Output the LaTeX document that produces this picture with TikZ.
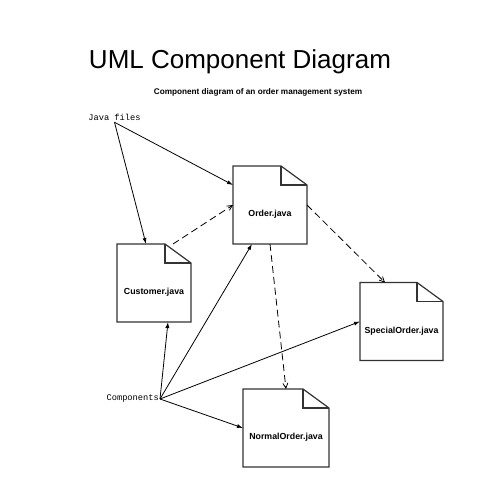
\documentclass[tikz,border=0pt]{standalone}
\usepackage{fontspec}
\setmainfont{Liberation Sans}
\newfontfamily\monofont{Liberation Mono}
\usetikzlibrary{arrows.meta}
\newcommand*{\foldw}{26pt}
\newcommand*{\foldh}{19pt}
\newcommand*{\compbox}[4][74pt]{%
  \node [compnode, minimum width=#1] (#2) at (#3) {#4};
  \draw [compline] (#2.north west) -- ([xshift=-\foldw]#2.north east)
    -- ([yshift=-\foldh]#2.north east) -- (#2.south east)
    -- (#2.south west) -- cycle;
  \draw [compline] ([xshift=-\foldw]#2.north east)
    |- ([yshift=-\foldh]#2.north east);
}

\begin{document}
\begin{tikzpicture}[x=1pt, y=1pt,
    compnode/.style = {minimum height=78pt, inner sep=0pt, outer sep=0pt,
                       text height=26pt, text depth=2pt,
                       font=\fontsize{8.8}{10}\selectfont\bfseries},
    compline/.style = {draw=black!80, line width=1.2pt, line join=miter},
    label/.style = {font=\monofont\fontsize{8.7}{10}\selectfont, inner sep=1pt},
    uses/.style = {-{Latex[length=6pt,width=4pt]}, line width=0.8pt},
    depends/.style = {-{Straight Barb[length=5pt,width=5pt]}, line width=0.8pt,
                      dash pattern=on 7pt off 4pt}]
  \useasboundingbox (0,0) rectangle (480,480);
  % titles
  \node [anchor=base, font=\fontsize{26}{30}\selectfont] (title) at (240,411)
    {UML Component Diagram};
  \node [anchor=base, font=\fontsize{8.2}{10}\selectfont\bfseries] (subtitle)
    at (258,385) {Component diagram of an order management system};
  % components
  \compbox{order}{270,275}{Order.java}
  \compbox{customer}{154,197}{Customer.java}
  \compbox[83pt]{special}{401.5,158.5}{SpecialOrder.java}
  \compbox[86pt]{normal}{286,52}{NormalOrder.java}
  % labels
  \node [label, anchor=base] (jf) at (114.5,359) {Java files};
  \node [label, anchor=base east] (comp) at (160,79) {Components};
  % connectors
  \draw [uses] (jf.south) -- ([yshift=20pt]order.west);
  \draw [uses] (jf.south) -- ([xshift=-8pt]customer.north);
  \draw [depends] ([xshift=19pt]customer.north) -- (order.west);
  \draw [depends] (order.east) -- ([xshift=-16.5pt]special.north);
  \draw [depends] (order.south) -- (normal.north);
  \draw [uses] (comp.east) -- ([xshift=14pt]customer.south);
  \draw [uses] (comp.east) -- ([xshift=-18pt]order.south);
  \draw [uses] (comp.east) -- (special.west);
  \draw [uses] (comp.east) -- (normal.west);
\end{tikzpicture}
\end{document}
